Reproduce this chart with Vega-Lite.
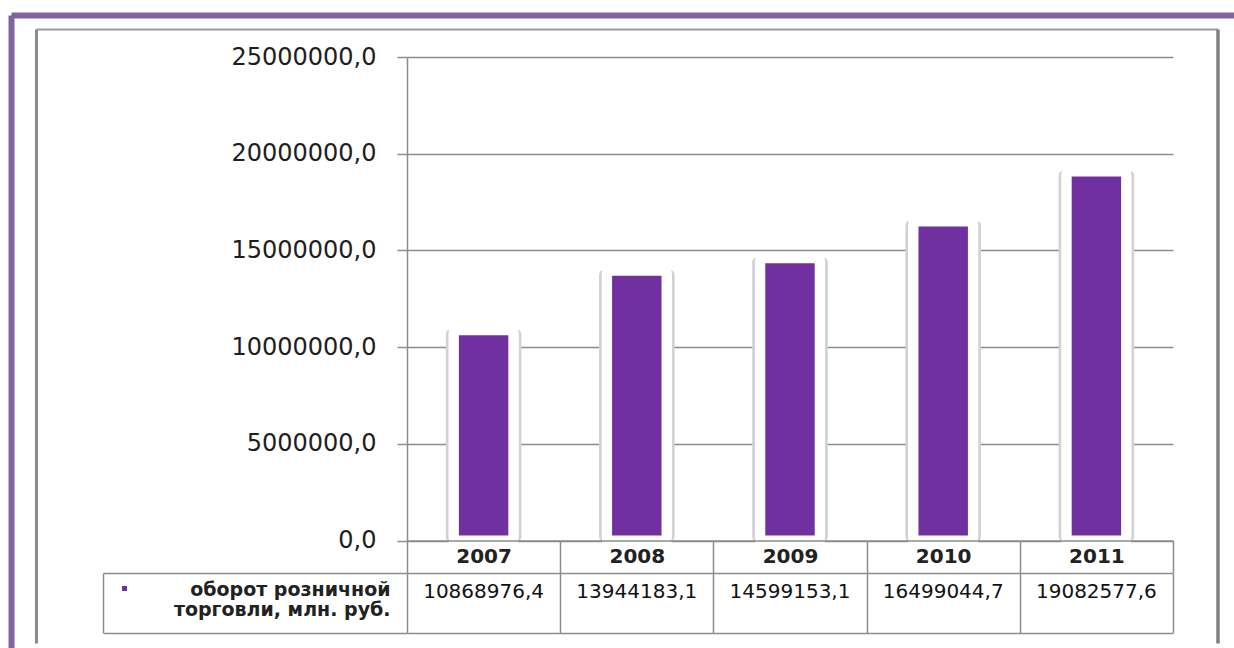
{
  "$schema": "https://vega.github.io/schema/vega-lite/v6.json",
  "width": 1223,
  "height": 633,
  "autosize": {"type": "none"},
  "padding": {"left": 11, "top": 15, "right": 0, "bottom": 0},
  "background": "white",
  "config": {
    "view": {"stroke": null},
    "axis": {"labelLimit": 600, "title": null},
    "locale": {"number": {"decimal": ",", "thousands": " ", "grouping": [3], "currency": ["", ""]}}
  },
  "data": {
    "values": [
      {"year": "2007", "value": 10868976.4, "series": "оборот розничной\nторговли, млн. руб."},
      {"year": "2008", "value": 13944183.1, "series": "оборот розничной\nторговли, млн. руб."},
      {"year": "2009", "value": 14599153.1, "series": "оборот розничной\nторговли, млн. руб."},
      {"year": "2010", "value": 16499044.7, "series": "оборот розничной\nторговли, млн. руб."},
      {"year": "2011", "value": 19082577.6, "series": "оборот розничной\nторговли, млн. руб."}
    ]
  },
  "layer": [
    {
      "encoding": {
        "x": {
          "field": "year", "type": "nominal",
          "scale": {"type": "band", "range": [396, 1162], "paddingInner": 0, "paddingOuter": 0},
          "axis": {
            "orient": "bottom", "offset": -107.5, "zindex": 1,
            "domainColor": "#8c8c8c", "domainWidth": 1.5,
            "tickBand": "extent", "tickSize": 32, "tickColor": "#8c8c8c", "tickWidth": 1.5,
            "labelAngle": 0, "labelFont": "DejaVu Sans", "labelFontWeight": "bold", "labelFontSize": 20,
            "labelColor": "#222222", "labelBaseline": "middle", "labelPadding": -16, "title": null
          }
        },
        "y": {
          "field": "value", "type": "quantitative",
          "scale": {"domain": [0, 25000000], "range": [525.5, 42], "nice": false, "zero": true},
          "axis": {
            "orient": "left", "offset": -396,
            "values": [0, 5000000, 10000000, 15000000, 20000000, 25000000],
            "format": ".1f",
            "grid": true, "gridColor": "#8c8c8c", "gridWidth": 1.5,
            "domainColor": "#8c8c8c", "domainWidth": 1.5,
            "tickSize": 10, "tickColor": "#8c8c8c", "tickWidth": 1.5,
            "labelFont": "DejaVu Sans", "labelFontSize": 24, "labelColor": "#1e1e1e",
            "labelPadding": 21, "title": null
          }
        }
      },
      "layer": [
        {
          "mark": {"type": "bar", "fill": "white", "stroke": "#d2d2d2", "strokeWidth": 2.5, "cornerRadius": 4,
                   "width": {"band": 0.477}}
        },
        {
          "mark": {"type": "bar", "width": {"band": 0.388}, "stroke": "white", "strokeWidth": 10},
          "encoding": {
            "color": {
              "field": "series", "type": "nominal",
              "scale": {"range": ["#7030A0"]},
              "legend": {
                "orient": "none", "legendX": 111, "legendY": 571, "title": null,
                "labelExpr": "''", "symbolType": "square", "symbolSize": 25,
                "symbolStrokeWidth": 0, "padding": 0, "labelFontSize": 1
              }
            }
          }
        }
      ]
    },
    {
      "mark": {"type": "text", "font": "DejaVu Sans", "fontSize": 20, "color": "#111111", "dy": -11},
      "encoding": {
        "x": {
          "field": "year", "type": "nominal",
          "scale": {"type": "band", "range": [396, 1162], "paddingInner": 0, "paddingOuter": 0},
          "axis": {
            "orient": "top", "grid": true, "gridColor": "#8c8c8c", "gridWidth": 1.5,
            "tickBand": "extent", "domain": false, "ticks": false, "labels": false, "title": null
          }
        },
        "y": {
          "field": "series", "type": "nominal",
          "scale": {"type": "band", "range": [558, 617.5], "paddingInner": 0, "paddingOuter": 0},
          "axis": {
            "orient": "left", "offset": -92,
            "grid": true, "gridColor": "#8c8c8c", "gridWidth": 1.5,
            "tickBand": "extent", "tickSize": -304, "tickColor": "#8c8c8c", "tickWidth": 1.5,
            "domainColor": "#8c8c8c", "domainWidth": 1.5,
            "labelExpr": "split(datum.label, '\\n')",
            "labelFont": "DejaVu Sans", "labelFontWeight": "bold", "labelFontSize": 19,
            "labelColor": "#222222", "labelAlign": "right", "labelBaseline": "middle",
            "labelLineHeight": 20, "labelPadding": 17, "labelOffset": -13, "title": null
          }
        },
        "text": {"field": "value", "type": "quantitative", "format": ".1f"}
      }
    },
    {
      "mark": {"type": "point", "opacity": 0},
      "encoding": {
        "x": {
          "field": "year", "type": "nominal",
          "scale": {"type": "band", "range": [25, 1206.5], "paddingInner": 0, "paddingOuter": 0},
          "axis": {"orient": "top", "offset": -14, "domainColor": "#9a9a9a", "domainWidth": 2,
                   "ticks": false, "labels": false, "grid": false, "title": null}
        },
        "y": {
          "field": "series", "type": "nominal",
          "scale": {"type": "band", "range": [14, 628], "paddingInner": 0, "paddingOuter": 0},
          "axis": {"orient": "left", "offset": -25, "domainColor": "#8c8c8c", "domainWidth": 3,
                   "ticks": false, "labels": false, "grid": false, "title": null}
        }
      }
    },
    {
      "mark": {"type": "point", "opacity": 0},
      "encoding": {
        "x": {
          "field": "year", "type": "nominal",
          "scale": {"type": "band", "paddingInner": 0, "paddingOuter": 0},
          "axis": {"orient": "top", "offset": 0, "domainColor": "#8064A2", "domainWidth": 6,
                   "ticks": false, "labels": false, "grid": false, "title": null}
        },
        "y": {
          "field": "series", "type": "nominal",
          "scale": {"type": "band", "paddingInner": 0, "paddingOuter": 0},
          "axis": {"orient": "left", "offset": 0, "domainColor": "#8064A2", "domainWidth": 6,
                   "ticks": false, "labels": false, "grid": false, "title": null}
        }
      }
    },
    {
      "mark": {"type": "point", "opacity": 0},
      "encoding": {
        "y": {
          "field": "series", "type": "nominal",
          "scale": {"type": "band", "range": [14, 628], "paddingInner": 0, "paddingOuter": 0},
          "axis": {"orient": "right", "offset": -16.5, "domainColor": "#808080", "domainWidth": 3.5,
                   "ticks": false, "labels": false, "grid": false, "title": null}
        }
      }
    }
  ],
  "resolve": {
    "scale": {"x": "independent", "y": "independent", "color": "independent"},
    "axis": {"x": "independent", "y": "independent"}
  }
}
